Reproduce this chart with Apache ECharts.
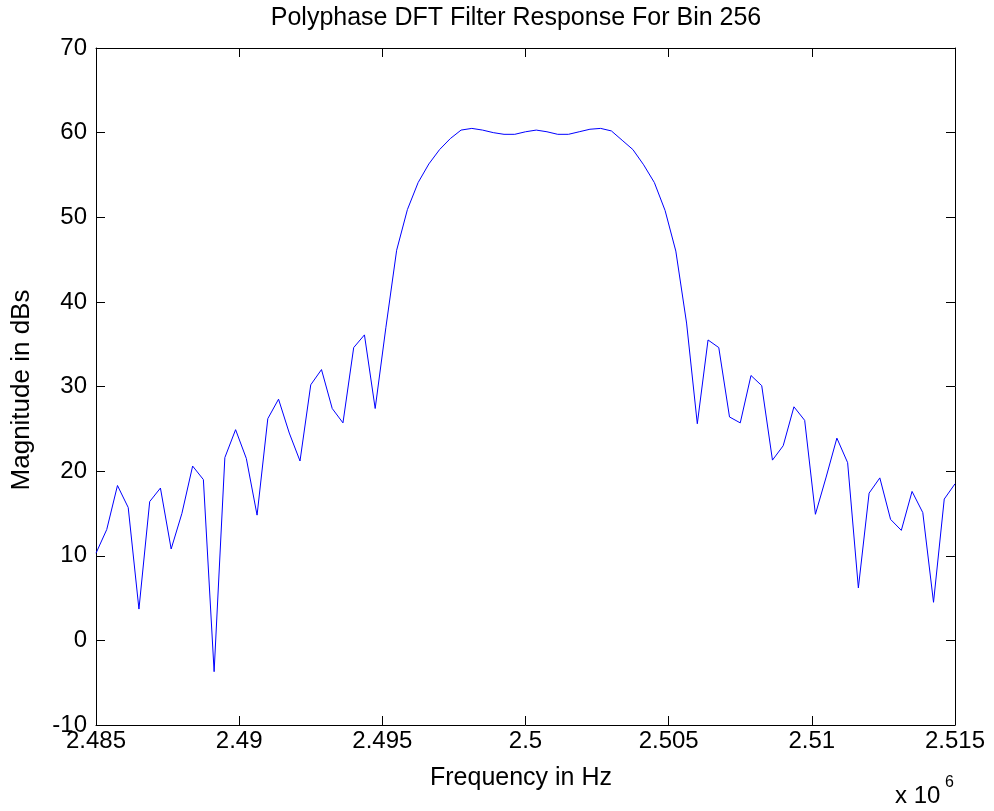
<!DOCTYPE html>
<html>
<head>
<meta charset="utf-8">
<script src="https://cdn.jsdelivr.net/npm/echarts@6/dist/echarts.min.js"></script>
<style>
html,body{margin:0;padding:0;background:#fff;}
#chart{width:994px;height:811px;}
</style>
</head>
<body>
<div id="chart"></div>
<script>
// Frequency samples (Hz)
const freqHz = [
  2485000, 2485375, 2485750, 2486125, 2486500, 2486875, 2487250, 2487625, 2488000, 2488375,
  2488750, 2489125, 2489500, 2489875, 2490250, 2490625, 2491000, 2491375, 2491750, 2492125,
  2492500, 2492875, 2493250, 2493625, 2494000, 2494375, 2494750, 2495125, 2495500, 2495875,
  2496250, 2496625, 2497000, 2497375, 2497750, 2498125, 2498500, 2498875, 2499250, 2499625,
  2500000, 2500375, 2500750, 2501125, 2501500, 2501875, 2502250, 2502625, 2503000, 2503375,
  2503750, 2504125, 2504500, 2504875, 2505250, 2505625, 2506000, 2506375, 2506750, 2507125,
  2507500, 2507875, 2508250, 2508625, 2509000, 2509375, 2509750, 2510125, 2510500, 2510875,
  2511250, 2511625, 2512000, 2512375, 2512750, 2513125, 2513500, 2513875, 2514250, 2514625,
  2515000
];
// Magnitude (dB)
const magnitudeDb = [
  10.3, 13.1, 18.3, 15.7, 3.7, 16.4, 18.0, 10.8, 15.0, 20.6,
  19.0, -3.7, 21.6, 24.9, 21.5, 14.8, 26.2, 28.5, 24.5, 21.2,
  30.2, 32.0, 27.4, 25.7, 34.6, 36.1, 27.4, 37.0, 46.1, 50.9,
  54.1, 56.3, 58.0, 59.3, 60.3, 60.5, 60.3, 60.0, 59.8, 59.8,
  60.1, 60.3, 60.1, 59.8, 59.8, 60.1, 60.4, 60.5, 60.2, 59.1,
  58.0, 56.2, 54.1, 50.8, 46.0, 37.5, 25.6, 35.5, 34.6, 26.4,
  25.7, 31.3, 30.1, 21.3, 23.0, 27.6, 26.0, 14.9, 19.3, 23.9,
  21.0, 6.2, 17.4, 19.2, 14.3, 13.0, 17.6, 15.1, 4.5, 16.7,
  18.5
];
// Axis tick settings
const xTicks = [2485000, 2490000, 2495000, 2500000, 2505000, 2510000, 2515000];
const yTicks = [-10, 0, 10, 20, 30, 40, 50, 60, 70];

const titleText = 'Polyphase DFT Filter Response For Bin 256';
const xName = 'Frequency in Hz';
const yName = 'Magnitude in dBs';

const FONT = 'Liberation Sans, Arial, sans-serif';
const chart = echarts.init(document.getElementById('chart'), null, {renderer: 'canvas'});

const axisLine = {show: true, onZero: false, lineStyle: {color: '#000', width: 1}};
const axisTick = {show: true, inside: true, length: 9, lineStyle: {color: '#000', width: 1}};

const option = {
  backgroundColor: '#fff',
  animation: false,
  grid: {left: 96, right: 39, top: 48, bottom: 86, containLabel: false},
  xAxis: [{
    type: 'value',
    min: xTicks[0], max: xTicks[xTicks.length - 1], interval: 5000,
    axisLine: axisLine, axisTick: axisTick, splitLine: {show: false},
    axisLabel: {
      color: '#000', fontSize: 24, fontFamily: FONT, margin: 4,
      formatter: v => String(+(v / 1e6).toFixed(3))
    }
  }, {
    type: 'value', position: 'top',
    min: xTicks[0], max: xTicks[xTicks.length - 1], interval: 5000,
    axisLine: axisLine, axisTick: axisTick, splitLine: {show: false},
    axisLabel: {show: false}
  }],
  yAxis: [{
    type: 'value',
    min: yTicks[0], max: yTicks[yTicks.length - 1], interval: 10,
    axisLine: axisLine, axisTick: axisTick, splitLine: {show: false},
    axisLabel: {color: '#000', fontSize: 24, fontFamily: FONT, margin: 9}
  }, {
    type: 'value', position: 'right',
    min: yTicks[0], max: yTicks[yTicks.length - 1], interval: 10,
    axisLine: axisLine, axisTick: axisTick, splitLine: {show: false},
    axisLabel: {show: false}
  }],
  series: [{
    type: 'line',
    data: freqHz.map((f, i) => [f, magnitudeDb[i]]),
    showSymbol: false,
    symbol: 'none',
    lineStyle: {color: '#0000ff', width: 1},
    clip: true
  }],
  graphic: [
    {type: 'text', x: 516, y: 18, style: {text: titleText, fill: '#000', font: '25px ' + FONT, textAlign: 'center', textVerticalAlign: 'middle'}},
    {type: 'text', x: 521, y: 778, style: {text: xName, fill: '#000', font: '25px ' + FONT, textAlign: 'center', textVerticalAlign: 'middle'}},
    {type: 'text', x: 22, y: 390, rotation: Math.PI / 2, style: {text: yName, fill: '#000', font: '26px ' + FONT, textAlign: 'center', textVerticalAlign: 'middle'}},
    {type: 'text', x: 895, y: 796, style: {text: 'x 10', fill: '#000', font: '24px ' + FONT, textAlign: 'left', textVerticalAlign: 'middle'}},
    {type: 'text', x: 945, y: 783, style: {text: '6', fill: '#000', font: '16px ' + FONT, textAlign: 'left', textVerticalAlign: 'middle'}}
  ]
};
chart.setOption(option);
</script>
</body>
</html>
